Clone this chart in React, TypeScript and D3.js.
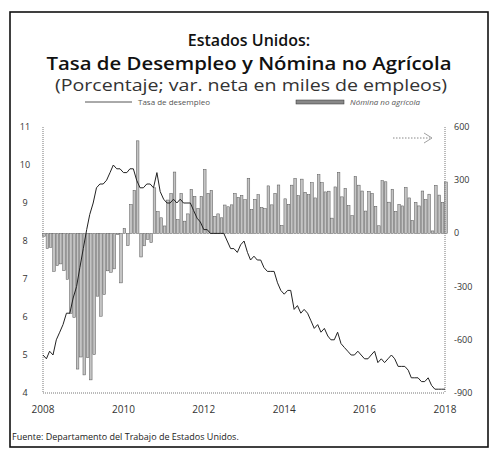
import React from 'react';
import * as d3 from 'd3';

// Tasa de desempleo (%), mensual, ene-2008 a ene-2018
const desempleo = [
  5.0, 4.9, 5.1, 5.0, 5.4, 5.6, 5.8, 6.1, 6.1, 6.5, 6.8, 7.3,
  7.8, 8.3, 8.7, 9.0, 9.4, 9.5, 9.5, 9.6, 9.8, 10.0, 9.9, 9.9,
  9.8, 9.8, 9.9, 9.9, 9.6, 9.4, 9.4, 9.5, 9.5, 9.4, 9.8, 9.3,
  9.1, 9.0, 9.0, 9.1, 9.0, 9.1, 9.0, 9.0, 9.0, 8.8, 8.6, 8.5,
  8.3, 8.3, 8.2, 8.2, 8.2, 8.2, 8.2, 8.0, 7.8, 7.8, 7.7, 7.9,
  8.0, 7.7, 7.5, 7.6, 7.5, 7.5, 7.3, 7.2, 7.2, 7.2, 6.9, 6.7,
  6.6, 6.7, 6.7, 6.2, 6.3, 6.1, 6.2, 6.1, 5.9, 5.7, 5.8, 5.6,
  5.7, 5.5, 5.4, 5.4, 5.6, 5.3, 5.2, 5.1, 5.0, 5.0, 5.1, 5.0,
  4.9, 4.9, 5.0, 5.1, 4.8, 4.9, 4.8, 4.9, 5.0, 4.9, 4.7, 4.7,
  4.7, 4.6, 4.4, 4.4, 4.4, 4.3, 4.3, 4.4, 4.2, 4.1, 4.1, 4.1,
  4.1,
];

// Nómina no agrícola, variación neta mensual (miles de empleos)
const nomina = [
  -16, -85, -79, -214, -182, -172, -210, -259, -452, -474, -765, -697,
  -798, -701, -826, -684, -354, -467, -345, -211, -219, -200, -7, -279,
  28, -69, 163, 243, 522, -133, -70, -34, -52, 257, 123, 88,
  42, 188, 225, 346, 77, 225, 69, 110, 248, 209, 141, 209,
  361, 226, 243, 96, 110, 88, 160, 150, 161, 225, 203, 214,
  190, 311, 135, 192, 218, 146, 140, 268, 161, 226, 273, 45,
  195, 164, 272, 310, 213, 306, 232, 218, 286, 200, 331, 286,
  234, 238, 86, 262, 344, 206, 254, 157, 100, 321, 272, 239,
  126, 237, 225, 153, 43, 297, 291, 176, 249, 124, 164, 155,
  259, 200, 73, 175, 155, 239, 190, 221, 14, 271, 216, 175,
  290,
];

const anios = [2008, 2010, 2012, 2014, 2016, 2018];
const ticksIzq = [4, 5, 6, 7, 8, 9, 10, 11];
const ticksDer = [-900, -600, -300, 0, 300, 600];

const W = 498;
const H = 455;
const left = 43;
const right = 445;
const top = 127;
const bottom = 393;

const font = "'Open Sans', sans-serif";

export default function App() {
  const fechas = desempleo.map((_, i) => new Date(2008, i, 1));
  const x = d3.scaleTime().domain([new Date(2008, 0, 1), new Date(2018, 0, 1)]).range([left, right]);
  const yIzq = d3.scaleLinear().domain([4, 11]).range([bottom, top]);
  const yDer = d3.scaleLinear().domain([-900, 600]).range([bottom, top]);
  const bw = 2.6;

  const linea = d3.line<number>()
    .x((_, i) => x(fechas[i]))
    .y(d => yIzq(d));

  return (
    <svg width={W} height={H} style={{ position: 'absolute', left: 0, top: 0, background: '#fff' }}>
      <rect x={10} y={12} width={478} height={435} fill="none" stroke="#111" strokeWidth={1.6} />

      <text x={249} y={46} textAnchor="middle" fontFamily={font} fontSize={16} fontWeight={600} fill="#111">Estados Unidos:</text>
      <text x={249} y={70} textAnchor="middle" fontFamily={font} fontSize={17.5} fontWeight={600} fill="#111"
        textLength={405} lengthAdjust="spacingAndGlyphs">Tasa de Desempleo y Nómina no Agrícola</text>
      <text x={251} y={91} textAnchor="middle" fontFamily={font} fontSize={16} fill="#333"
        textLength={392} lengthAdjust="spacingAndGlyphs">(Porcentaje; var. neta en miles de empleos)</text>

      {/* leyenda */}
      <line x1={85} x2={132} y1={102} y2={102} stroke="#555" strokeWidth={1} />
      <text x={138} y={105} fontFamily={font} fontSize={8} fill="#555">Tasa de desempleo</text>
      <rect x={296} y={100} width={48} height={4} fill="#888" stroke="#333" strokeWidth={0.5} />
      <text x={350} y={105} fontFamily={font} fontSize={8} fontStyle="italic" fill="#555">Nómina no agrícola</text>

      {/* barras */}
      {nomina.map((v, i) => (
        <rect key={i}
          x={x(fechas[i]) - bw / 2 + 1}
          y={Math.min(yDer(v), yDer(0))}
          width={bw}
          height={Math.abs(yDer(v) - yDer(0))}
          fill="#c4c4c4" stroke="#555" strokeWidth={0.5} />
      ))}

      {/* ejes */}
      <line x1={left} x2={left} y1={top} y2={bottom} stroke="#777" strokeDasharray="1,1" />
      <line x1={right} x2={right} y1={top} y2={bottom} stroke="#777" strokeDasharray="1,1" />
      <line x1={left} x2={right} y1={bottom} y2={bottom} stroke="#777" strokeDasharray="1,1" />

      <path d={linea(desempleo) || ''} fill="none" stroke="#222" strokeWidth={1} />

      {ticksIzq.map(t => (
        <text key={t} x={25} y={yIzq(t) + 3} textAnchor="middle" fontFamily={font} fontSize={9} fill="#333">{t}</text>
      ))}
      {ticksDer.map(t => (
        <text key={t} x={454} y={yDer(t) + 3} fontFamily={font} fontSize={9} fill="#333">{t}</text>
      ))}
      {anios.map(a => (
        <text key={a} x={x(new Date(a, 0, 1))} y={413} textAnchor="middle" fontFamily={font} fontSize={10} fill="#333">{a}</text>
      ))}

      {/* flecha eje derecho */}
      <line x1={393} x2={430} y1={138} y2={138} stroke="#888" strokeDasharray="1.5,1.5" />
      <path d="M424,133 L432,138 L424,143" fill="none" stroke="#888" strokeWidth={0.8} />

      <text x={12} y={440} fontFamily={font} fontSize={9} fill="#222">Fuente: Departamento del Trabajo de Estados Unidos.</text>
    </svg>
  );
}
